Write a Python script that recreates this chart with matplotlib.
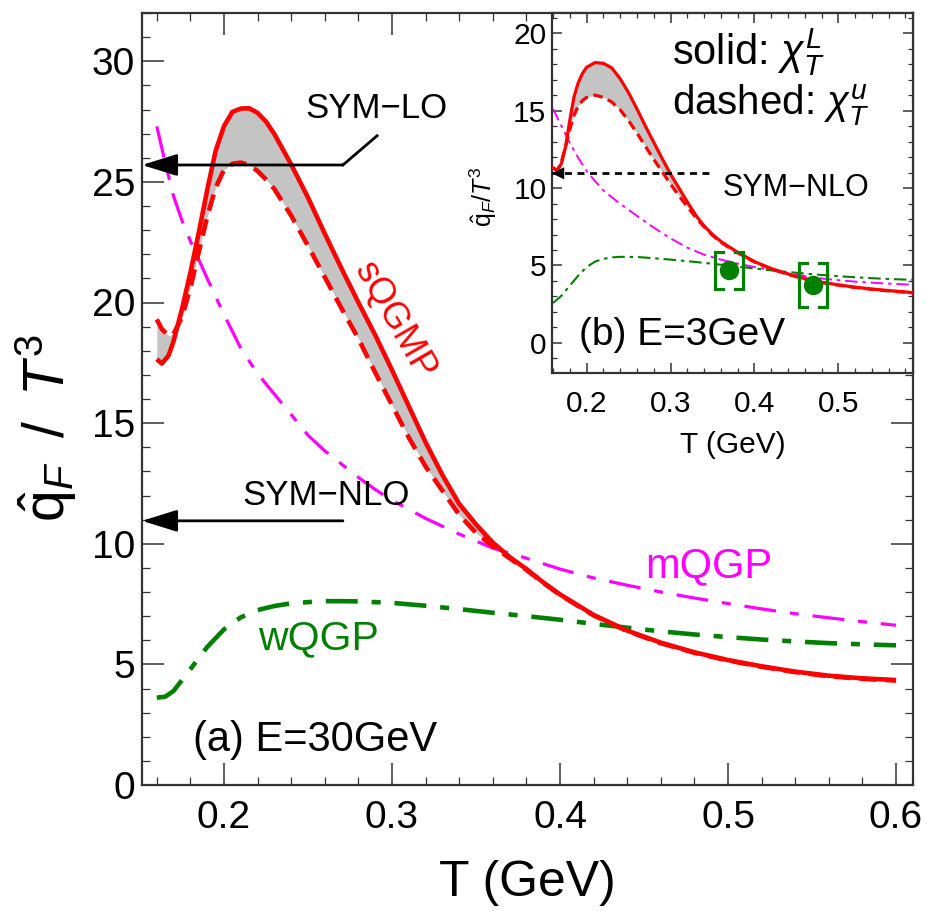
import numpy as np
import matplotlib
matplotlib.use('Agg')
import matplotlib.pyplot as plt
from matplotlib.ticker import MultipleLocator

plt.rcParams['font.family'] = ['Liberation Sans', 'DejaVu Sans']
plt.rcParams['mathtext.fontset'] = 'custom'
plt.rcParams['mathtext.rm'] = 'Liberation Sans'
plt.rcParams['mathtext.it'] = 'Liberation Sans:italic'
plt.rcParams['mathtext.bf'] = 'Liberation Sans:bold'
plt.rcParams['lines.scale_dashes'] = False

# ---------------- panel (a): E = 30 GeV ----------------
T_a = [0.160, 0.163, 0.167, 0.170, 0.175, 0.180, 0.185, 0.190, 0.195, 0.200,
       0.205, 0.210, 0.215, 0.220, 0.225, 0.230, 0.240, 0.250, 0.260, 0.270,
       0.280, 0.290, 0.300, 0.310, 0.320, 0.330, 0.340, 0.350, 0.360, 0.370,
       0.380, 0.390, 0.400, 0.420, 0.440, 0.460, 0.480, 0.500, 0.520, 0.540,
       0.560, 0.580, 0.600]
sqgmp_L_a = [17.65, 17.47, 17.8, 18.4, 19.73, 21.24, 22.9, 24.66, 26.28, 27.31,
             27.9, 28.04, 28.05, 27.86, 27.5, 26.98, 25.72, 24.35, 22.85, 21.4,
             20.0, 18.65, 17.2, 15.7, 14.2, 12.85, 11.65, 10.8, 10.05, 9.45,
             8.95, 8.4, 7.9, 7.05, 6.4, 5.9, 5.5, 5.18, 4.92, 4.7,
             4.53, 4.42, 4.35]
sqgmp_u_a = [19.3, 18.9, 18.63, 18.7, 19.4, 20.6, 22.1, 23.55, 24.75, 25.5,
             25.75, 25.8, 25.7, 25.45, 25.1, 24.7, 23.6, 22.35, 21.05, 19.75,
             18.5, 17.1, 15.75, 14.4, 13.2, 12.2, 11.2, 10.45, 9.9, 9.4,
             8.92, 8.38, 7.88, 7.03, 6.38, 5.88, 5.48, 5.16, 4.9, 4.68,
             4.51, 4.4, 4.33]

T_mw_a = [0.160, 0.165, 0.170, 0.175, 0.180, 0.190, 0.200, 0.210, 0.220, 0.230,
          0.240, 0.250, 0.260, 0.270, 0.280, 0.290, 0.300, 0.320, 0.340, 0.360,
          0.380, 0.400, 0.420, 0.440, 0.460, 0.480, 0.500, 0.520, 0.540, 0.560,
          0.580, 0.600]
mqgp_a = [27.3, 25.8, 24.4, 23.4, 22.55, 21.0, 19.5, 18.1, 17.05, 16.2,
          15.35, 14.5, 13.85, 13.3, 12.75, 12.25, 11.8, 11.05, 10.4, 9.82,
          9.4, 8.95, 8.58, 8.28, 8.0, 7.75, 7.52, 7.3, 7.1, 6.93,
          6.77, 6.62]
wqgp_a = [3.62, 3.66, 3.9, 4.35, 4.8, 5.72, 6.45, 6.95, 7.25, 7.42,
          7.53, 7.58, 7.62, 7.62, 7.61, 7.58, 7.55, 7.43, 7.29, 7.14,
          7.0, 6.85, 6.68, 6.52, 6.37, 6.24, 6.13, 6.03, 5.95, 5.88,
          5.83, 5.79]

sym_lo = 25.7
sym_nlo = 10.95

# ---------------- panel (b): E = 3 GeV (inset) ----------------
T_b = [0.160, 0.165, 0.170, 0.175, 0.180, 0.185, 0.190, 0.195, 0.200, 0.210,
       0.220, 0.230, 0.240, 0.250, 0.260, 0.270, 0.280, 0.290, 0.300, 0.310,
       0.320, 0.330, 0.340, 0.350, 0.360, 0.370, 0.380, 0.400, 0.420, 0.440,
       0.460, 0.480, 0.500, 0.520, 0.540, 0.560, 0.580, 0.590]
sqgmp_L_b = [11.3, 11.1, 11.6, 12.7, 14.4, 15.9, 16.8, 17.4, 17.8, 18.1,
             18.05, 17.75, 17.05, 16.15, 15.1, 14.0, 12.95, 11.9, 10.9, 10.0,
             9.1, 8.25, 7.55, 7.0, 6.55, 6.2, 5.85, 5.25, 4.8, 4.45,
             4.15, 3.92, 3.75, 3.6, 3.48, 3.38, 3.29, 3.24]
sqgmp_u_b = [11.3, 11.15, 11.7, 12.7, 13.8, 14.7, 15.3, 15.65, 15.85, 16.0,
             15.85, 15.55, 15.05, 14.35, 13.55, 12.7, 11.85, 11.05, 10.25, 9.5,
             8.8, 8.1, 7.5, 6.95, 6.5, 6.15, 5.82, 5.23, 4.78, 4.43,
             4.13, 3.9, 3.73, 3.58, 3.46, 3.36, 3.27, 3.22]

T_mw_b = [0.160, 0.170, 0.180, 0.190, 0.200, 0.210, 0.220, 0.230, 0.240, 0.260,
          0.280, 0.300, 0.320, 0.340, 0.360, 0.380, 0.400, 0.420, 0.440, 0.460,
          0.480, 0.500, 0.520, 0.540, 0.560, 0.580, 0.590]
mqgp_b = [15.1, 14.0, 12.9, 11.95, 11.1, 10.45, 9.85, 9.4, 8.98, 8.2,
          7.45, 6.75, 6.15, 5.7, 5.38, 5.12, 4.9, 4.7, 4.49, 4.31,
          4.16, 4.05, 3.96, 3.89, 3.83, 3.78, 3.76]
wqgp_b = [2.58, 3.05, 3.7, 4.35, 4.9, 5.25, 5.43, 5.52, 5.56, 5.55,
          5.47, 5.38, 5.28, 5.17, 5.05, 4.93, 4.81, 4.69, 4.58, 4.48,
          4.39, 4.31, 4.24, 4.18, 4.13, 4.09, 4.08]

# JET collaboration extraction (RHIC, LHC)
T_jet = [0.37, 0.47]
q_jet = [4.7, 3.75]
err_jet = [1.2, 1.4]

xticks_a = [0.2, 0.3, 0.4, 0.5, 0.6]
xticklabels_a = ['0.2', '0.3', '0.4', '0.5', '0.6']
yticks_a = [0, 5, 10, 15, 20, 25, 30]
yticklabels_a = ['0', '5', '10', '15', '20', '25', '30']
xticks_b = [0.2, 0.3, 0.4, 0.5]
xticklabels_b = ['0.2', '0.3', '0.4', '0.5']
yticks_b = [0, 5, 10, 15, 20]
yticklabels_b = ['0', '5', '10', '15', '20']

RED = '#ff0000'
MAG = '#ff00ff'
GRN = '#008000'
GREY = '#c4c4c4'
FW, FH = 927, 911

fig = plt.figure(figsize=(FW / 100, FH / 100), dpi=100)


def style(a, maj, mnr, lsize, padx, pady, xmin, ymin):
    for s in a.spines.values():
        s.set_linewidth(1.6)
        s.set_color('#333333')
    a.tick_params(which='both', direction='in', top=True, right=True,
                  color='#333333', labelcolor='black')
    a.tick_params(which='major', length=maj, width=1.1, labelsize=lsize)
    a.tick_params(which='minor', length=mnr, width=0.9)
    a.tick_params(axis='x', which='major', pad=padx)
    a.tick_params(axis='y', which='major', pad=pady)
    a.xaxis.set_minor_locator(MultipleLocator(xmin))
    a.yaxis.set_minor_locator(MultipleLocator(ymin))


# ---------------- main axes ----------------
ax = fig.add_axes([142 / FW, 1 - 785 / FH, (913 - 142) / FW, (785 - 13) / FH])
ax.set_xlim(0.1512, 0.6101)
ax.set_ylim(0, 32)
ax.set_xticks(xticks_a)
ax.set_xticklabels(xticklabels_a)
ax.set_yticks(yticks_a)
ax.set_yticklabels(yticklabels_a)
style(ax, 16, 6, 28, 11, 5, 0.02, 1)

ax.fill_between(T_a, sqgmp_L_a, sqgmp_u_a, color=GREY, lw=0, zorder=1)
ax.plot(T_a, sqgmp_u_a, color=RED, lw=3.3, dashes=(12, 6.5), zorder=3)
ax.plot(T_a, sqgmp_L_a, color=RED, lw=3.3, zorder=4, solid_capstyle='butt')
ax.plot(T_mw_a, mqgp_a, color=MAG, lw=2.3, dashes=(23, 10, 6.5, 10), zorder=2)
ax.plot(T_mw_a, wqgp_a, color=GRN, lw=3.3, dashes=(23, 10, 6.5, 10), zorder=2)

x0 = ax.get_xlim()[0]
arrow_kw = dict(arrowstyle='-|>,head_length=0.9,head_width=0.28', mutation_scale=24,
                lw=2.0, color='black', shrinkA=0, shrinkB=0)
ax.annotate('', xy=(x0, sym_lo), xytext=(0.2708, sym_lo), arrowprops=arrow_kw,
            annotation_clip=False, zorder=6)
ax.plot([0.2708, 0.2911], [sym_lo, 26.91], color='black', lw=2.0, zorder=6)
ax.text(0.2905, 28.03, 'SYM\u2212LO', fontsize=25, ha='center', va='center')
ax.annotate('', xy=(x0, sym_nlo), xytext=(0.2708, sym_nlo), arrowprops=arrow_kw,
            annotation_clip=False, zorder=6)
ax.text(0.2607, 12.0, 'SYM\u2212NLO', fontsize=25, ha='center', va='center')

ax.text(0.3012, 19.25, 'sQGMP', fontsize=26, color=RED, rotation=-60,
        ha='center', va='center', rotation_mode='anchor')
ax.text(0.4887, 9.06, 'mQGP', fontsize=30, color=MAG, ha='center', va='center')
ax.text(0.2565, 6.06, 'wQGP', fontsize=29.5, color=GRN, ha='center', va='center')
ax.text(0.2542, 1.85, '(a) E=30GeV', fontsize=30, ha='center', va='center')

fig.text(527 / FW, 1 - 883 / FH, 'T (GeV)', fontsize=36, ha='center', va='center')
fig.text(46 / FW, 1 - 428 / FH, r'$\hat{\mathrm{q}}_F\;\;/\;\;T^3$', fontsize=41,
         rotation=90, ha='center', va='center')

# ---------------- inset ----------------
ax2 = fig.add_axes([552 / FW, 1 - 373 / FH, (913 - 552) / FW, (373 - 13) / FH])
ax2.set_xlim(0.1587, 0.589)
ax2.set_ylim(-1.94, 21.3)
ax2.set_xticks(xticks_b)
ax2.set_xticklabels(xticklabels_b)
ax2.set_yticks(yticks_b)
ax2.set_yticklabels(yticklabels_b)
style(ax2, 7, 3.5, 21.5, 12, 4, 0.02, 1)
ax2.set_facecolor('white')

ax2.fill_between(T_b, sqgmp_L_b, sqgmp_u_b, color=GREY, lw=0, zorder=1)
ax2.plot(T_b, sqgmp_u_b, color=RED, lw=2.3, dashes=(7, 4), zorder=3)
ax2.plot(T_b, sqgmp_L_b, color=RED, lw=2.3, zorder=4)
ax2.plot(T_mw_b, mqgp_b, color=MAG, lw=1.4, dashes=(9, 3.5, 2.5, 3.5), zorder=2)
ax2.plot(T_mw_b, wqgp_b, color=GRN, lw=1.5, dashes=(9, 3.5, 2.5, 3.5), zorder=2)

x0b = ax2.get_xlim()[0]
ax2.plot([x0b, 0.351], [sym_nlo, sym_nlo], color='black', lw=2.0, dashes=(5, 4), zorder=5)
ax2.annotate('', xy=(x0b, sym_nlo), xytext=(x0b + 0.012, sym_nlo),
             arrowprops=dict(arrowstyle='-|>,head_length=0.5,head_width=0.25',
                             mutation_scale=16, lw=0.5, color='black',
                             shrinkA=0, shrinkB=0),
             annotation_clip=False, zorder=6)

# JET data points with bracket-style systematic boxes
half_w = 0.0165
cap = 0.0095
for t, q, e in zip(T_jet, q_jet, err_jet):
    lo, hi = q - e, q + e
    ax2.plot([t - half_w + cap, t - half_w, t - half_w, t - half_w + cap],
             [hi, hi, lo, lo], color=GRN, lw=2.3, zorder=6, solid_joinstyle='miter')
    ax2.plot([t + half_w - cap, t + half_w, t + half_w, t + half_w - cap],
             [hi, hi, lo, lo], color=GRN, lw=2.3, zorder=6, solid_joinstyle='miter')
ax2.plot(T_jet, q_jet, 'o', color=GRN, ms=13, zorder=7)

ax2.text(0.3017, 17.95, r'solid: $\chi_T^L$', fontsize=30, ha='left', va='baseline')
ax2.text(0.3017, 14.73, r'dashed: $\chi_T^u$', fontsize=29, ha='left', va='baseline')
ax2.text(0.4492, 10.0, 'SYM\u2212NLO', fontsize=22, ha='center', va='center')
ax2.text(0.3142, 0.535, '(b) E=3GeV', fontsize=28, ha='center', va='center')

fig.text(733 / FW, 1 - 445 / FH, 'T (GeV)', fontsize=21.5, ha='center', va='center')
fig.text(483 / FW, 1 - 197 / FH, r'$\hat{\mathrm{q}}_F/T^3$', fontsize=18,
         rotation=90, ha='center', va='center')

fig.savefig('out.png', dpi=100)
